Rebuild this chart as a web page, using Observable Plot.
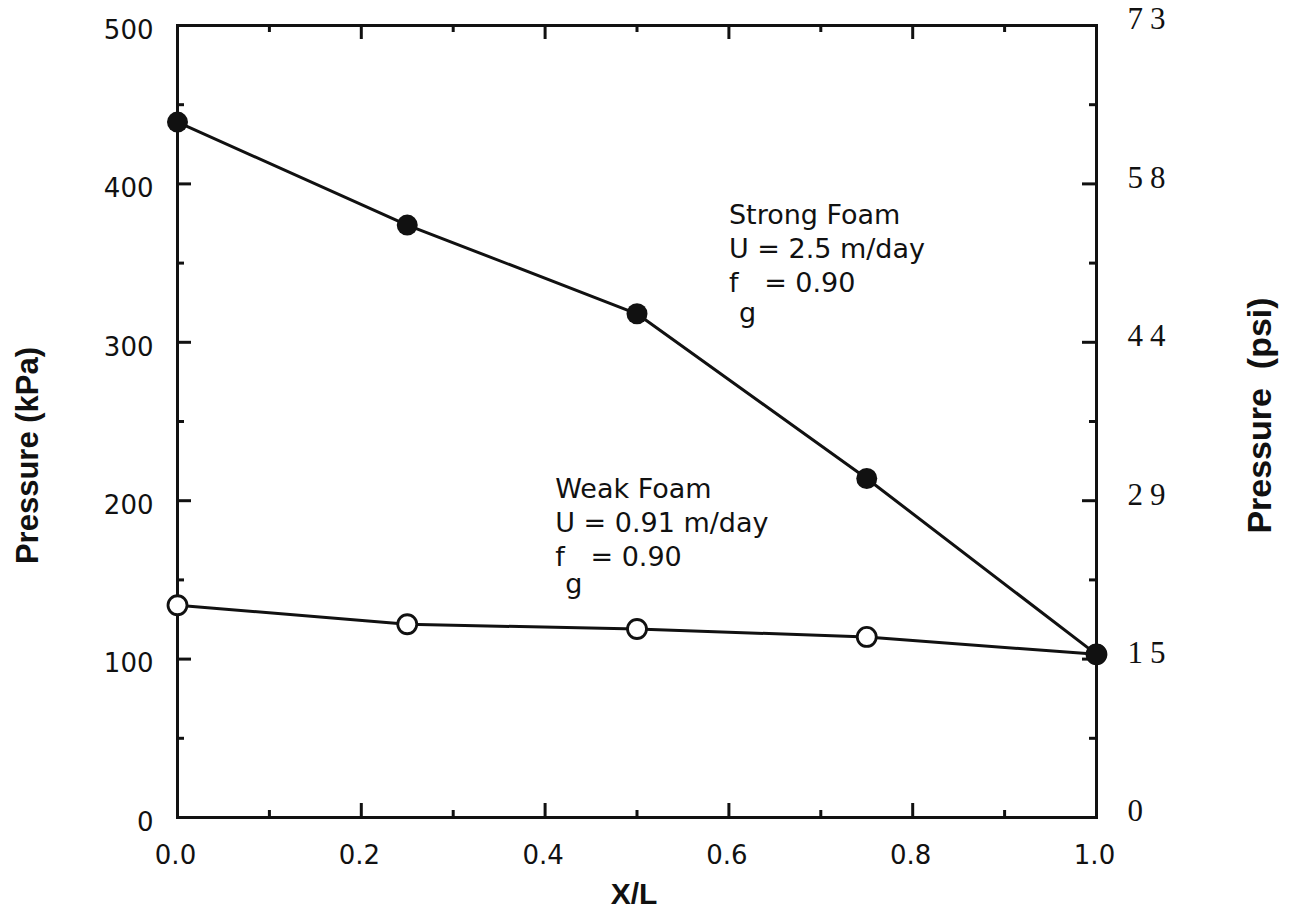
<!DOCTYPE html>
<html>
<head>
<meta charset="utf-8">
<script src="https://cdn.jsdelivr.net/npm/d3@7"></script>
<script src="https://cdn.jsdelivr.net/npm/@observablehq/plot@0.6"></script>
<style>
  html, body { margin: 0; padding: 0; background: #fff; }
  #chart svg { display: block; }
</style>
</head>
<body>
<div id="chart"></div>
<script>
// Dimensionless position along the core
const positions = [0, 0.25, 0.5, 0.75, 1.0];
// Pressure profiles (kPa)
const strongFoam = [439, 374, 318, 214, 103];
const weakFoam = [134, 122, 119, 114, 103];

// Axis ticks
const xMajorTicks = [0, 0.2, 0.4, 0.6, 0.8, 1.0];
const xMinorTicks = [0.1, 0.3, 0.5, 0.7, 0.9];
const yMajorTicks = [0, 100, 200, 300, 400, 500];
const yMinorTicks = [50, 150, 250, 350, 450];
// Secondary pressure scale (psi) labels placed at the kPa ticks
const psiLabels = ["0", "15", "29", "44", "58", "73"];

// Annotation text and anchor positions (data units)
const strongNote = {x: 0.6, y: 360, text: "Strong Foam\nU = 2.5 m/day\nf\u00a0\u00a0\u00a0= 0.90"};
const weakNote = {x: 0.411, y: 187, text: "Weak Foam\nU = 0.91 m/day\nf\u00a0\u00a0\u00a0= 0.90"};
const subG = [
  {x: strongNote.x, y: 318, text: "g"},
  {x: weakNote.x, y: 147, text: "g"}
];

const strongData = positions.map((x, i) => ({x, p: strongFoam[i]}));
const weakData = positions.map((x, i) => ({x, p: weakFoam[i]}));

const W = 1293, H = 921;
const mL = 177, mR = 197, mT = 25, mB = 104;
const plotW = W - mL - mR, plotH = H - mT - mB;
const majorLen = 14, minorLen = 7;

const sans = "DejaVu Sans, sans-serif";
const bold = "Liberation Sans, Arial, Helvetica, sans-serif";
const serif = "Liberation Serif, Times New Roman, serif";

const chart = Plot.plot({
  width: W,
  height: H,
  marginLeft: mL,
  marginRight: mR,
  marginTop: mT,
  marginBottom: mB,
  x: {domain: [0, 1], axis: null},
  y: {domain: [0, 500], axis: null},
  style: {background: "white", fontFamily: sans, color: "#111"},
  marks: [
    // inward tick marks on all four sides
    Plot.tickY(yMajorTicks, {y: d => d, insetRight: plotW - majorLen, strokeWidth: 3, stroke: "#111"}),
    Plot.tickY(yMinorTicks, {y: d => d, insetRight: plotW - minorLen, strokeWidth: 3, stroke: "#111"}),
    Plot.tickY(yMajorTicks, {y: d => d, insetLeft: plotW - majorLen, strokeWidth: 3, stroke: "#111"}),
    Plot.tickY(yMinorTicks, {y: d => d, insetLeft: plotW - minorLen, strokeWidth: 3, stroke: "#111"}),
    Plot.tickX(xMajorTicks, {x: d => d, insetTop: plotH - majorLen, strokeWidth: 3, stroke: "#111"}),
    Plot.tickX(xMinorTicks, {x: d => d, insetTop: plotH - minorLen, strokeWidth: 3, stroke: "#111"}),
    Plot.tickX(xMajorTicks, {x: d => d, insetBottom: plotH - majorLen, strokeWidth: 3, stroke: "#111"}),
    Plot.tickX(xMinorTicks, {x: d => d, insetBottom: plotH - minorLen, strokeWidth: 3, stroke: "#111"}),
    Plot.frame({stroke: "#111", strokeWidth: 3}),

    // tick labels
    Plot.axisY({anchor: "left", ticks: yMajorTicks, tickSize: 0, tickPadding: 24, fontSize: 26, dy: 5, label: null, fill: "#111"}),
    Plot.axisX({anchor: "bottom", ticks: xMajorTicks, tickFormat: d3.format(".1f"), tickSize: 0, tickPadding: 28, fontSize: 26, dx: -2, label: null, fill: "#111"}),
    Plot.text(yMajorTicks, {y: d => d, text: (d, i) => psiLabels[i], frameAnchor: "right", textAnchor: "start", dx: 31, dy: -6,
      fontFamily: serif, fontSize: 31, fill: "#111"}),

    // axis titles
    Plot.text(["Pressure (kPa)"], {frameAnchor: "left", textAnchor: "middle", dx: -149, dy: 34, rotate: -90, fontFamily: bold, fontWeight: "bold", fontSize: 31, fill: "#111"}),
    Plot.text(["Pressure\u00a0\u00a0(psi)"], {frameAnchor: "right", textAnchor: "middle", dx: 164, dy: -6, rotate: -90, fontFamily: bold, fontWeight: "bold", fontSize: 34, fill: "#111"}),
    Plot.text(["X/L"], {frameAnchor: "bottom", textAnchor: "middle", dx: -3, dy: 86, fontFamily: bold, fontWeight: "bold", fontSize: 30, fill: "#111"}),

    // pressure profiles
    Plot.line(weakData, {x: "x", y: "p", stroke: "#111", strokeWidth: 3}),
    Plot.line(strongData, {x: "x", y: "p", stroke: "#111", strokeWidth: 3}),
    Plot.dot(weakData, {x: "x", y: "p", r: 9.5, fill: "white", stroke: "#111", strokeWidth: 2.8}),
    Plot.dot(strongData, {x: "x", y: "p", r: 10.5, fill: "#111", stroke: "none"}),

    // annotations
    Plot.text([strongNote, weakNote], {x: "x", y: "y", text: "text", textAnchor: "start", lineHeight: 1.25, fontSize: 27, fill: "#111"}),
    Plot.text(subG, {x: "x", y: "y", text: "text", textAnchor: "start", dx: 10, fontSize: 27, fill: "#111"})
  ]
});

// spaced-out digits on the psi scale
chart.querySelectorAll("g[font-family]").forEach(g => {
  if (g.getAttribute("font-family").startsWith("Liberation Serif")) {
    g.querySelectorAll("text").forEach(t => t.setAttribute("letter-spacing", "7"));
  }
});

document.getElementById("chart").append(chart);
</script>
</body>
</html>
